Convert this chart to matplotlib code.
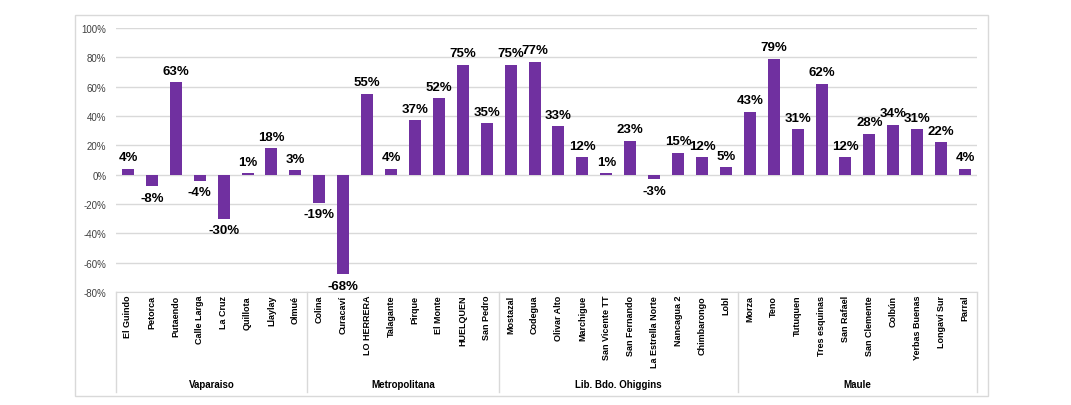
import matplotlib
matplotlib.use("Agg")
import matplotlib.pyplot as plt
from matplotlib.patches import Rectangle
import matplotlib.transforms as mtransforms

plt.rcParams['font.family'] = ['Liberation Sans Narrow', 'Liberation Sans', 'DejaVu Sans']

regions = ["Vaparaiso", "Metropolitana", "Lib. Bdo. Ohiggins", "Maule"]
sites_valp = ["El Guindo", "Petorca", "Putaendo", "Calle Larga", "La Cruz", "Quillota", "Llaylay", "Olmué"]
sites_metro = ["Colina", "Curacaví", "LO HERRERA", "Talagante", "Pirque", "El Monte", "HUELQUEN", "San Pedro"]
sites_ohig = ["Mostazal", "Codegua", "Olivar Alto", "Marchigue", "San Vicente TT", "San Fernando",
              "La Estrella Norte", "Nancagua 2", "Chimbarongo", "Lobl"]
sites_maule = ["Morza", "Teno", "Tutuquen", "Tres esquinas", "San Rafael", "San Clemente", "Colbún",
               "Yerbas Buenas", "Longaví Sur", "Parral"]
vals_valp = [4, -8, 63, -4, -30, 1, 18, 3]
vals_metro = [-19, -68, 55, 4, 37, 52, 75, 35]
vals_ohig = [75, 77, 33, 12, 1, 23, -3, 15, 12, 5]
vals_maule = [43, 79, 31, 62, 12, 28, 34, 31, 22, 4]
yticks = [-80, -60, -40, -20, 0, 20, 40, 60, 80, 100]

groups = [sites_valp, sites_metro, sites_ohig, sites_maule]
values = [vals_valp, vals_metro, vals_ohig, vals_maule]
sites = [s for g in groups for s in g]
vals = [v for g in values for v in g]
n = len(sites)

W, H = 1071, 406
fig = plt.figure(figsize=(W / 100, H / 100), dpi=100)
fig.patch.set_facecolor("white")

# outer chart border
fig.add_artist(Rectangle((75 / W, 1 - 397 / H), (988 - 75) / W, (397 - 16) / H,
                         transform=fig.transFigure, fill=False, edgecolor="#d9d9d9", lw=1))

left, right, top, bottom = 116, 977, 29, 293
ax = fig.add_axes([left / W, 1 - bottom / H, (right - left) / W, (bottom - top) / H])
ax.set_xlim(-0.5, n - 0.5)
ax.set_ylim(-80, 100)
for sp in ax.spines.values():
    sp.set_visible(False)
ax.spines['bottom'].set_visible(True)
ax.spines['bottom'].set_color("#d9d9d9")
ax.set_yticks(yticks)
ax.set_yticklabels([f"{t}%" for t in yticks], fontsize=7, color="#404040",
                   family=['Liberation Sans', 'DejaVu Sans'])
ax.tick_params(axis='y', length=0, pad=7)
ax.set_xticks([])
ax.grid(axis='y', color="#d9d9d9", lw=1)
ax.set_axisbelow(True)

x = list(range(n))
ax.bar(x, vals, width=0.5, color="#7030A0", zorder=3)

for xi, v in zip(x, vals):
    if v >= 0:
        ax.annotate(f"{v}%", (xi, v), xytext=(0, 4), textcoords="offset points",
                    ha="center", va="bottom", fontsize=9.5, fontweight="bold", color="black")
    else:
        ax.annotate(f"{v}%", (xi, v), xytext=(0, -4), textcoords="offset points",
                    ha="center", va="top", fontsize=9.5, fontweight="bold", color="black")

# category labels
trans = mtransforms.blended_transform_factory(ax.transData, ax.transAxes)
axh = bottom - top
for xi, s in zip(x, sites):
    ax.text(xi, -3 / axh, s, rotation=90, ha="center", va="top", fontsize=6.5,
            fontweight="bold", transform=trans, color="black")

# group separators and labels
bound = -0.5
y_low = -(393 - bottom) / axh
ax.plot([bound, bound], [0, y_low], transform=trans, color="#d9d9d9", lw=1, clip_on=False)
for name, g in zip(regions, groups):
    start = bound
    bound = start + len(g)
    ax.plot([bound, bound], [0, y_low], transform=trans, color="#d9d9d9", lw=1, clip_on=False)
    ax.text((start + bound) / 2, -(385 - bottom) / axh, name, ha="center", va="center",
            fontsize=7, fontweight="bold", transform=trans, color="black")

fig.savefig("out.png", dpi=100, facecolor="white")
